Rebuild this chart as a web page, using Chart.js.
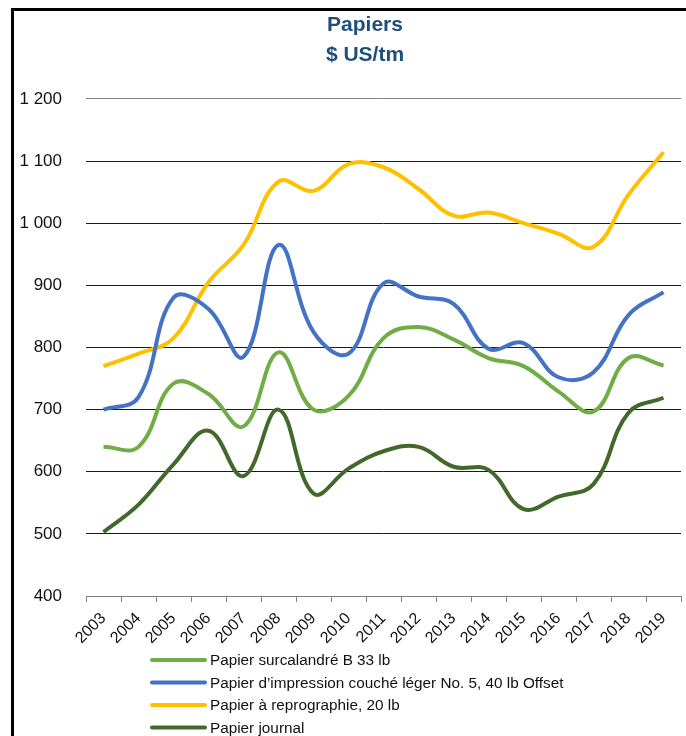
<!DOCTYPE html>
<html lang="fr">
<head>
<meta charset="utf-8">
<title>Papiers - $ US/tm</title>
<script src="https://cdn.jsdelivr.net/npm/chart.js@4/dist/chart.umd.min.js"></script>
<style>
    html, body { margin: 0; padding: 0; background: #fff; overflow: hidden; width: 686px; height: 736px; }
    .frame {
        position: absolute;
        left: 11px;
        top: 8px;
        width: 720px;
        height: 760px;
        border-left: 3px solid #000;
        border-top: 3px solid #000;
    }
    #papiersChart { position: absolute; left: 0; top: 0; }
</style>
</head>
<body>
<div class="frame"></div>
<canvas id="papiersChart" width="730" height="736"></canvas>

<script>
const annees = ['2003', '2004', '2005', '2006', '2007', '2008', '2009', '2010', '2011',
                '2012', '2013', '2014', '2015', '2016', '2017', '2018', '2019'];

const surcalandre  = [640, 640, 742, 725, 673, 792, 700, 722, 815, 833, 813, 783, 770, 729, 697, 783, 771];
const couche       = [700, 720, 880, 862, 785, 965, 825, 790, 903, 882, 870, 798, 807, 752, 760, 852, 889];
const reprographie = [770, 790, 815, 905, 965, 1067, 1052, 1095, 1090, 1055, 1012, 1017, 1000, 983, 962, 1046, 1114];
const journal      = [503, 547, 612, 666, 593, 700, 565, 605, 633, 640, 608, 603, 540, 560, 580, 695, 719];

const seriesNames = [
    'Papier surcalandré B 33 lb',
    'Papier d\u2019impression couché léger No. 5, 40 lb Offset',
    'Papier à reprographie, 20 lb',
    'Papier journal'
];
const seriesColors = ['#70ad47', '#4472c4', '#ffc000', '#43682b'];

const yTickValues = [400, 500, 600, 700, 800, 900, 1000, 1100, 1200];

const FONT = "'Liberation Sans', Arial, sans-serif";

document.addEventListener('DOMContentLoaded', function() {
    createPapiersChart();
});

function formatMilliers(value) {
    return String(value).replace(/\B(?=(\d{3})+(?!\d))/g, ' ');
}

// legend drawn as a single column under the axis labels
const columnLegend = {
    id: 'columnLegend',
    afterDraw(chart) {
        const ctx = chart.ctx;
        ctx.save();
        ctx.font = '15.3px ' + FONT;
        ctx.textBaseline = 'middle';
        ctx.textAlign = 'left';
        chart.data.datasets.forEach((ds, i) => {
            const y = 660 + i * 22.5;
            ctx.strokeStyle = ds.borderColor;
            ctx.lineWidth = 4;
            ctx.lineCap = 'round';
            ctx.beginPath();
            ctx.moveTo(152, y);
            ctx.lineTo(205, y);
            ctx.stroke();
            ctx.fillStyle = '#111';
            ctx.fillText(ds.label, 210, y + 1);
        });
        ctx.restore();
    }
};

function createPapiersChart() {
    const ctx = document.getElementById('papiersChart').getContext('2d');
    const values = [surcalandre, couche, reprographie, journal];

    const datasets = values.map((data, index) => ({
        label: seriesNames[index],
        data: data,
        borderColor: seriesColors[index],
        backgroundColor: seriesColors[index],
        borderWidth: 4,
        pointRadius: 0,
        fill: false,
        tension: 0.4
    }));

    // canvas is wider than the window so the title centres where the original frame did;
    // an empty right axis keeps the plot ending at the same place
    new Chart(ctx, {
        type: 'line',
        data: {
            labels: annees,
            datasets: datasets
        },
        options: {
            responsive: false,
            animation: false,
            layout: {
                padding: { left: 0, right: 0, top: 0, bottom: 86 }
            },
            plugins: {
                legend: { display: false },
                tooltip: { enabled: false },
                title: {
                    display: true,
                    text: ['Papiers', '$ US/tm'],
                    color: '#1f4e79',
                    font: { family: FONT, size: 21, weight: 'bold', lineHeight: 1.45 },
                    padding: { top: 10, bottom: 28 }
                }
            },
            scales: {
                x: {
                    offset: true,
                    afterFit: function(scale) { scale.height = 54; },
                    grid: {
                        offset: true,
                        drawOnChartArea: false,
                        drawTicks: true,
                        tickLength: 6,
                        color: '#808080'
                    },
                    border: { color: '#808080', width: 1 },
                    ticks: {
                        minRotation: 45,
                        maxRotation: 45,
                        autoSkip: false,
                        padding: 7,
                        color: '#111',
                        font: { family: FONT, size: 16 }
                    }
                },
                y: {
                    min: 400,
                    max: 1200,
                    afterFit: function(scale) { scale.width = 86; },
                    afterBuildTicks: function(scale) {
                        scale.ticks = yTickValues.map(v => ({ value: v }));
                    },
                    grid: {
                        drawTicks: false,
                        color: function(c) {
                            return (c.tick && (c.tick.value === 400 || c.tick.value === 1200)) ? '#808080' : '#1a1a1a';
                        },
                        lineWidth: 1
                    },
                    border: { display: false },
                    ticks: {
                        padding: 24,
                        color: '#111',
                        font: { family: FONT, size: 17 },
                        callback: function(value) {
                            return formatMilliers(value);
                        }
                    }
                },
                spacer: {
                    type: 'linear',
                    position: 'right',
                    display: true,
                    afterFit: function(scale) { scale.width = 49; },
                    grid: { display: false },
                    border: { display: false },
                    ticks: { display: false }
                }
            }
        },
        plugins: [columnLegend]
    });
}
</script>
</body>
</html>
